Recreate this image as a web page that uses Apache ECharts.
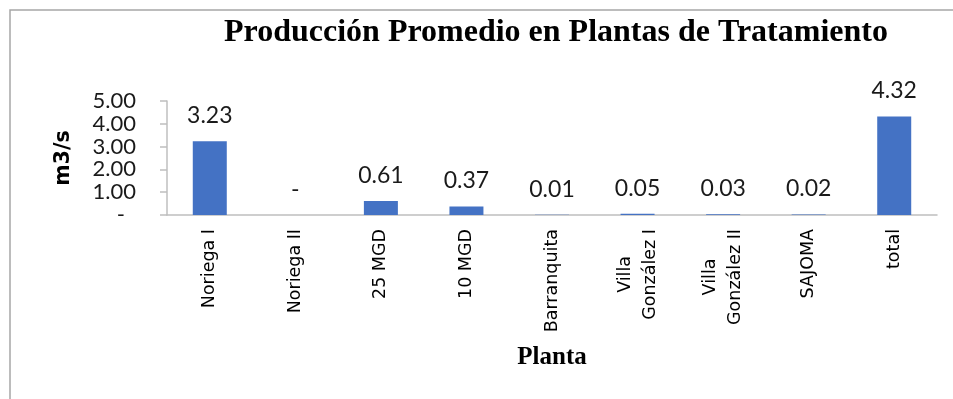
<!DOCTYPE html>
<html><head><meta charset="utf-8">
<script src="https://cdn.jsdelivr.net/npm/echarts@6/dist/echarts.min.js"></script>
<style>html,body{margin:0;padding:0;background:#fff}#c{width:953px;height:399px}</style>
</head><body><div id="c"></div>
<script>
const categories = ['Noriega I', 'Noriega II', '25 MGD', '10 MGD', 'Barranquita', 'Villa González I', 'Villa González II', 'SAJOMA', 'total'];
const values = [3.23, 0, 0.61, 0.37, 0.01, 0.05, 0.03, 0.02, 4.32];
const yMin = 0, yMax = 5, yInterval = 1;
const titleText = 'Producción Promedio en Plantas de Tratamiento';
const yName = 'm3/s';
const xName = 'Planta';

const numFont = 'Lato, "Noto Sans", sans-serif';
const catFont = '"DejaVu Sans", sans-serif';
const serif = '"Liberation Serif", "Times New Roman", serif';

const chart = echarts.init(document.getElementById('c'), null, {renderer: 'canvas'});
chart.setOption({
  animation: false,
  backgroundColor: '#fff',
  graphic: [
    {type: 'rect', z: -1, silent: true, shape: {x: 10, y: 10, width: 1200, height: 800},
     style: {fill: 'none', stroke: '#a6a6a6', lineWidth: 1.5}},
    {type: 'text', x: 556, y: 33, silent: true,
     style: {text: titleText, align: 'center', verticalAlign: 'middle',
             font: 'bold 32px ' + serif, fill: '#000'}}
  ],
  grid: {left: 167, right: 16, top: 101, bottom: 184, containLabel: false, outerBoundsMode: 'none'},
  xAxis: {
    type: 'category',
    data: categories,
    name: xName,
    nameLocation: 'middle',
    nameGap: 130,
    nameTextStyle: {fontFamily: serif, fontWeight: 'bold', fontSize: 25, color: '#000'},
    axisLine: {lineStyle: {color: '#bfbfbf', width: 1.5}},
    axisTick: {show: false},
    axisLabel: {
      interval: 0, rotate: 90, margin: 14,
      fontFamily: catFont, fontSize: 17.5, color: '#000',
      formatter: function (name) {
        if (name.indexOf('Villa ') === 0) {
          return '{c|Villa}\n{c|' + name.slice(6) + '}';
        }
        return name;
      },
      rich: {c: {align: 'center', fontFamily: catFont, fontSize: 17.5, lineHeight: 25, color: '#000'}}
    }
  },
  yAxis: {
    type: 'value',
    min: yMin, max: yMax, interval: yInterval,
    name: yName,
    nameLocation: 'middle',
    nameGap: 93,
    nameTextStyle: {fontFamily: '"DejaVu Sans", sans-serif', fontWeight: 'bold', fontSize: 20.5, color: '#000'},
    axisLine: {show: true, lineStyle: {color: '#bfbfbf', width: 1.5}},
    axisTick: {show: true, length: 7, lineStyle: {color: '#bfbfbf', width: 1.5}},
    splitLine: {show: false},
    axisLabel: {
      margin: 31, fontFamily: numFont, fontSize: 22, color: '#1a1a1a',
      showMinLabel: true, showMaxLabel: true,
      formatter: function (v) { return v === 0 ? '{z|-}' : v.toFixed(2); },
      rich: {z: {fontFamily: numFont, fontSize: 22, color: '#1a1a1a', padding: [0, 11, 0, 0]}}
    }
  },
  series: [{
    type: 'bar',
    data: values,
    barWidth: 34,
    itemStyle: {color: '#4472C4'},
    label: {
      show: true, position: 'top', distance: 14,
      fontFamily: numFont, fontSize: 23, color: '#1a1a1a',
      formatter: function (p) { return p.value === 0 ? '-' : p.value.toFixed(2); }
    }
  }]
});
</script>
</body></html>
